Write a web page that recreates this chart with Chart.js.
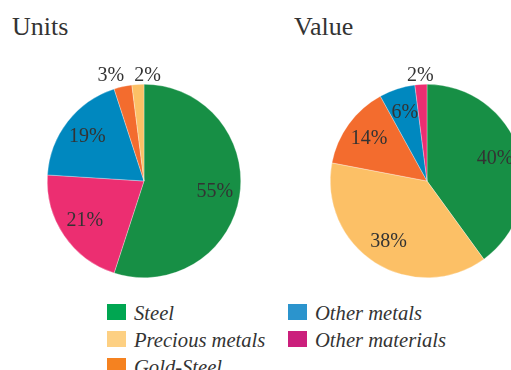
<!DOCTYPE html>
<html>
<head>
<meta charset="utf-8">
<script src="https://cdn.jsdelivr.net/npm/chart.js@4/dist/chart.umd.min.js"></script>
<style>
  html, body { margin:0; padding:0; width:511px; height:370px; overflow:hidden; background:#fff; }
  body { position:relative; font-family:"Liberation Serif", serif; color:#333; }
  .title { position:absolute; font-size:26px; line-height:1; }
  .wrap { position:absolute; width:240px; height:240px; }
  .leg { position:absolute; font-size:20.6px; font-style:italic; line-height:1; white-space:nowrap; }
  .sw { position:absolute; width:19px; height:16px; }
</style>
</head>
<body>
<div class="title" id="t1" style="left:12px; top:14px;"></div>
<div class="title" id="t2" style="left:294px; top:14px;"></div>
<div class="wrap" style="left:24px; top:61px;"><canvas id="c1" width="240" height="240"></canvas></div>
<div class="wrap" style="left:307px; top:61px;"><canvas id="c2" width="240" height="240"></canvas></div>
<div id="legend"></div>
<script>
const titles = ['Units', 'Value'];
const categories = ['Steel', 'Precious metals', 'Gold-Steel', 'Other metals', 'Other materials'];
const unitsValues = [55, 2, 3, 19, 21];
const valueValues = [40, 38, 14, 6, 2];
const pieColors = ['#178f45', '#fcc066', '#f36c2e', '#0088bf', '#ec2e71'];
const legendColors = ['#00a651', '#fdd083', '#f58220', '#2b94cd', '#cb1f7c'];

document.getElementById('t1').textContent = titles[0];
document.getElementById('t2').textContent = titles[1];

const labelPlugin = {
  id: 'pctLabels',
  afterDatasetsDraw(chart) {
    const ctx = chart.ctx;
    const meta = chart.getDatasetMeta(0);
    const data = chart.data.datasets[0].data;
    const total = data.reduce((a, b) => a + b, 0);
    ctx.save();
    ctx.font = '20px "Liberation Serif"';
    ctx.fillStyle = '#333';
    ctx.textAlign = 'center';
    ctx.textBaseline = 'middle';
    const outside = [];
    meta.data.forEach((arc, i) => {
      const p = arc.getProps(['x', 'y', 'startAngle', 'endAngle', 'outerRadius'], true);
      const mid = (p.startAngle + p.endAngle) / 2;
      const pct = Math.round(data[i] / total * 100);
      const txt = pct + '%';
      if (pct >= 5) {
        const r = p.outerRadius * 0.74;
        ctx.fillText(txt, p.x + Math.cos(mid) * r, p.y + Math.sin(mid) * r);
      } else {
        const r = p.outerRadius + 9;
        outside.push({ txt, x: p.x + Math.cos(mid) * r, y: p.y + Math.sin(mid) * r, w: ctx.measureText(txt).width });
      }
    });
    outside.sort((a, b) => a.x - b.x);
    for (let k = 1; k < outside.length; k++) {
      const a = outside[k - 1], b = outside[k];
      const need = (a.w + b.w) / 2 + 10;
      if (b.x - a.x < need && Math.abs(a.y - b.y) < 20) {
        const m = (a.x + b.x) / 2;
        a.x = m - need / 2; b.x = m + need / 2;
        const y = Math.min(a.y, b.y); a.y = y; b.y = y;
      }
    }
    outside.forEach(o => ctx.fillText(o.txt, o.x, o.y));
    ctx.restore();
  }
};

function makePie(id, values) {
  const idx = categories.map((_, i) => i).sort((a, b) => values[b] - values[a]);
  new Chart(document.getElementById(id), {
    type: 'pie',
    data: {
      labels: idx.map(i => categories[i]),
      datasets: [{
        data: idx.map(i => values[i]),
        backgroundColor: idx.map(i => pieColors[i]),
        borderColor: 'rgba(255,255,255,0.6)',
        borderWidth: 0.5
      }]
    },
    options: {
      responsive: false,
      animation: false,
      layout: { padding: 23 },
      plugins: { legend: { display: false }, tooltip: { enabled: false } }
    },
    plugins: [labelPlugin]
  });
}
makePie('c1', unitsValues);
makePie('c2', valueValues);

// legend (column-major, 3 rows)
const leg = document.getElementById('legend');
const colX = [107, 288];
const rowY = [304, 331, 358];
categories.forEach((name, i) => {
  const col = Math.floor(i / 3), row = i % 3;
  const sw = document.createElement('div');
  sw.className = 'sw';
  sw.style.left = colX[col] + 'px';
  sw.style.top = rowY[row] + 'px';
  sw.style.background = legendColors[i];
  leg.appendChild(sw);
  const t = document.createElement('div');
  t.className = 'leg';
  t.textContent = name;
  t.style.left = (colX[col] + 27) + 'px';
  t.style.top = (rowY[row] - 1) + 'px';
  leg.appendChild(t);
});
</script>
</body>
</html>
